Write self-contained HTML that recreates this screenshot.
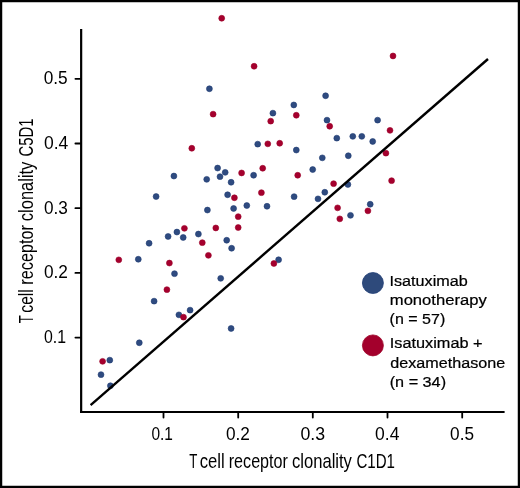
<!DOCTYPE html>
<html><head><meta charset="utf-8"><style>
html,body{margin:0;padding:0;background:#fff;}
body{width:520px;height:488px;overflow:hidden;}
svg{display:block;will-change:transform;}
text{font-family:"Liberation Sans",sans-serif;fill:#000;}
.lg text{fill:#000;stroke:#000;stroke-width:0.22px;}
.b{fill:#2f4b80;stroke:#1f3b72;stroke-width:0.6;}
.r{fill:#a5002e;stroke:#9a0026;stroke-width:0.6;}
.B{fill:#2e4a7b;stroke:#223f76;stroke-width:0.8;}
.R{fill:#a3002c;stroke:#9c0026;stroke-width:0.8;}
</style></head><body>
<svg width="520" height="488" viewBox="0 0 520 488">
<rect x="1.12" y="1.12" width="517.76" height="485.76" fill="#fff" stroke="#000" stroke-width="2.24"/>
<g>
<circle cx="209.4" cy="88.75" r="2.95" class="b"/>
<circle cx="325.6" cy="95.75" r="2.95" class="b"/>
<circle cx="173.9" cy="176.05" r="2.95" class="b"/>
<circle cx="156.1" cy="196.55" r="2.95" class="b"/>
<circle cx="272.9" cy="113.15" r="2.95" class="b"/>
<circle cx="257.7" cy="144.15" r="2.95" class="b"/>
<circle cx="217.6" cy="168.05" r="2.95" class="b"/>
<circle cx="225.2" cy="172.35" r="2.95" class="b"/>
<circle cx="253.6" cy="175.25" r="2.95" class="b"/>
<circle cx="206.7" cy="179.35" r="2.95" class="b"/>
<circle cx="220.0" cy="176.65" r="2.95" class="b"/>
<circle cx="231.1" cy="182.25" r="2.95" class="b"/>
<circle cx="227.6" cy="194.75" r="2.95" class="b"/>
<circle cx="293.8" cy="104.95" r="2.95" class="b"/>
<circle cx="327.0" cy="120.15" r="2.95" class="b"/>
<circle cx="377.6" cy="120.15" r="2.95" class="b"/>
<circle cx="336.8" cy="138.15" r="2.95" class="b"/>
<circle cx="352.8" cy="136.35" r="2.95" class="b"/>
<circle cx="361.8" cy="136.35" r="2.95" class="b"/>
<circle cx="372.7" cy="141.45" r="2.95" class="b"/>
<circle cx="296.3" cy="150.05" r="2.95" class="b"/>
<circle cx="322.3" cy="157.85" r="2.95" class="b"/>
<circle cx="348.3" cy="155.75" r="2.95" class="b"/>
<circle cx="312.7" cy="169.55" r="2.95" class="b"/>
<circle cx="347.9" cy="184.45" r="2.95" class="b"/>
<circle cx="324.8" cy="192.25" r="2.95" class="b"/>
<circle cx="294.1" cy="196.65" r="2.95" class="b"/>
<circle cx="318.0" cy="198.85" r="2.95" class="b"/>
<circle cx="176.9" cy="232.05" r="2.95" class="b"/>
<circle cx="168.1" cy="236.45" r="2.95" class="b"/>
<circle cx="183.2" cy="237.45" r="2.95" class="b"/>
<circle cx="149.1" cy="243.25" r="2.95" class="b"/>
<circle cx="138.3" cy="259.25" r="2.95" class="b"/>
<circle cx="174.5" cy="273.65" r="2.95" class="b"/>
<circle cx="207.4" cy="210.05" r="2.95" class="b"/>
<circle cx="233.6" cy="208.45" r="2.95" class="b"/>
<circle cx="246.8" cy="205.55" r="2.95" class="b"/>
<circle cx="267.0" cy="206.25" r="2.95" class="b"/>
<circle cx="198.4" cy="234.05" r="2.95" class="b"/>
<circle cx="226.7" cy="240.25" r="2.95" class="b"/>
<circle cx="231.6" cy="248.25" r="2.95" class="b"/>
<circle cx="220.7" cy="278.35" r="2.95" class="b"/>
<circle cx="370.2" cy="204.25" r="2.95" class="b"/>
<circle cx="350.5" cy="215.35" r="2.95" class="b"/>
<circle cx="278.6" cy="259.75" r="2.95" class="b"/>
<circle cx="154.1" cy="301.15" r="2.95" class="b"/>
<circle cx="178.9" cy="314.85" r="2.95" class="b"/>
<circle cx="190.1" cy="310.15" r="2.95" class="b"/>
<circle cx="231.1" cy="328.45" r="2.95" class="b"/>
<circle cx="139.3" cy="342.75" r="2.95" class="b"/>
<circle cx="109.8" cy="360.15" r="2.95" class="b"/>
<circle cx="101.0" cy="374.65" r="2.95" class="b"/>
<circle cx="110.4" cy="385.75" r="2.95" class="b"/>
<circle cx="221.7" cy="18.25" r="2.95" class="r"/>
<circle cx="254.1" cy="66.25" r="2.95" class="r"/>
<circle cx="393.0" cy="55.95" r="2.95" class="r"/>
<circle cx="213.1" cy="114.15" r="2.95" class="r"/>
<circle cx="270.7" cy="121.15" r="2.95" class="r"/>
<circle cx="191.8" cy="148.25" r="2.95" class="r"/>
<circle cx="267.8" cy="143.85" r="2.95" class="r"/>
<circle cx="279.7" cy="143.25" r="2.95" class="r"/>
<circle cx="241.6" cy="172.95" r="2.95" class="r"/>
<circle cx="262.7" cy="168.25" r="2.95" class="r"/>
<circle cx="234.4" cy="197.75" r="2.95" class="r"/>
<circle cx="261.4" cy="192.65" r="2.95" class="r"/>
<circle cx="296.3" cy="115.25" r="2.95" class="r"/>
<circle cx="329.7" cy="126.25" r="2.95" class="r"/>
<circle cx="297.7" cy="175.25" r="2.95" class="r"/>
<circle cx="333.6" cy="183.65" r="2.95" class="r"/>
<circle cx="390.0" cy="130.35" r="2.95" class="r"/>
<circle cx="385.9" cy="153.15" r="2.95" class="r"/>
<circle cx="391.6" cy="180.65" r="2.95" class="r"/>
<circle cx="184.4" cy="228.35" r="2.95" class="r"/>
<circle cx="118.8" cy="259.85" r="2.95" class="r"/>
<circle cx="169.4" cy="263.05" r="2.95" class="r"/>
<circle cx="166.9" cy="289.65" r="2.95" class="r"/>
<circle cx="238.2" cy="216.65" r="2.95" class="r"/>
<circle cx="215.8" cy="227.95" r="2.95" class="r"/>
<circle cx="238.2" cy="227.55" r="2.95" class="r"/>
<circle cx="202.3" cy="242.65" r="2.95" class="r"/>
<circle cx="208.4" cy="255.35" r="2.95" class="r"/>
<circle cx="337.6" cy="207.85" r="2.95" class="r"/>
<circle cx="339.8" cy="218.85" r="2.95" class="r"/>
<circle cx="367.9" cy="210.85" r="2.95" class="r"/>
<circle cx="273.9" cy="263.45" r="2.95" class="r"/>
<circle cx="102.6" cy="361.35" r="2.95" class="r"/>
<circle cx="183.5" cy="317.15" r="2.95" class="r"/>
</g>
<line x1="81.15" y1="29.0" x2="81.15" y2="413" stroke="#000" stroke-width="2.2"/>
<line x1="80" y1="412" x2="504.6" y2="412" stroke="#000" stroke-width="2"/>
<line x1="163.5" y1="412" x2="163.5" y2="417.6" stroke="#000" stroke-width="1.8" stroke-linecap="round"/>
<line x1="238.2" y1="412" x2="238.2" y2="417.6" stroke="#000" stroke-width="1.8" stroke-linecap="round"/>
<line x1="312.8" y1="412" x2="312.8" y2="417.6" stroke="#000" stroke-width="1.8" stroke-linecap="round"/>
<line x1="387.5" y1="412" x2="387.5" y2="417.6" stroke="#000" stroke-width="1.8" stroke-linecap="round"/>
<line x1="462.2" y1="412" x2="462.2" y2="417.6" stroke="#000" stroke-width="1.8" stroke-linecap="round"/>
<line x1="75.4" y1="78.8" x2="81" y2="78.8" stroke="#000" stroke-width="1.8" stroke-linecap="round"/>
<line x1="75.4" y1="143.5" x2="81" y2="143.5" stroke="#000" stroke-width="1.8" stroke-linecap="round"/>
<line x1="75.4" y1="208.2" x2="81" y2="208.2" stroke="#000" stroke-width="1.8" stroke-linecap="round"/>
<line x1="75.4" y1="272.9" x2="81" y2="272.9" stroke="#000" stroke-width="1.8" stroke-linecap="round"/>
<line x1="75.4" y1="337.6" x2="81" y2="337.6" stroke="#000" stroke-width="1.8" stroke-linecap="round"/>
<line x1="90.6" y1="405.1" x2="488.0" y2="59.0" stroke="#000" stroke-width="2.4"/>
<text x="151.38" y="439.7" font-size="17.5" textLength="21.49" lengthAdjust="spacingAndGlyphs">0.1</text>
<text x="226.01" y="439.7" font-size="17.5" textLength="23.95" lengthAdjust="spacingAndGlyphs">0.2</text>
<text x="300.49" y="439.7" font-size="17.5" textLength="24.61" lengthAdjust="spacingAndGlyphs">0.3</text>
<text x="375.10" y="439.7" font-size="17.5" textLength="24.33" lengthAdjust="spacingAndGlyphs">0.4</text>
<text x="450.11" y="439.7" font-size="17.5" textLength="23.88" lengthAdjust="spacingAndGlyphs">0.5</text>
<text x="43.71" y="84.1" font-size="17.5" textLength="23.98" lengthAdjust="spacingAndGlyphs">0.5</text>
<text x="44.00" y="148.9" font-size="17.5" textLength="24.33" lengthAdjust="spacingAndGlyphs">0.4</text>
<text x="44.01" y="213.6" font-size="17.5" textLength="23.86" lengthAdjust="spacingAndGlyphs">0.3</text>
<text x="44.01" y="278.1" font-size="17.5" textLength="23.95" lengthAdjust="spacingAndGlyphs">0.2</text>
<text x="43.97" y="342.9" font-size="17.5" textLength="22.03" lengthAdjust="spacingAndGlyphs">0.1</text>
<text x="189.17" y="467.7" font-size="21" textLength="8.11" lengthAdjust="spacingAndGlyphs">T</text>
<text x="199.65" y="467.7" font-size="21" textLength="24.94" lengthAdjust="spacingAndGlyphs">cell</text>
<text x="228.75" y="467.7" font-size="21" textLength="59.15" lengthAdjust="spacingAndGlyphs">receptor</text>
<text x="291.95" y="467.7" font-size="21" textLength="59.99" lengthAdjust="spacingAndGlyphs">clonality</text>
<text x="356.45" y="467.7" font-size="21" textLength="38.53" lengthAdjust="spacingAndGlyphs">C1D1</text>
<g transform="rotate(-90)">
<text x="-323.33" y="32.6" font-size="21" textLength="8.00" lengthAdjust="spacingAndGlyphs">T</text>
<text x="-312.71" y="32.6" font-size="21" textLength="23.53" lengthAdjust="spacingAndGlyphs">cell</text>
<text x="-284.66" y="32.6" font-size="21" textLength="59.56" lengthAdjust="spacingAndGlyphs">receptor</text>
<text x="-221.14" y="32.6" font-size="21" textLength="59.49" lengthAdjust="spacingAndGlyphs">clonality</text>
<text x="-156.55" y="32.6" font-size="21" textLength="38.12" lengthAdjust="spacingAndGlyphs">C5D1</text>
</g>
<circle cx="372.9" cy="283" r="10.5" class="B"/>
<circle cx="372.9" cy="345.4" r="10.5" class="R"/>
<g class="lg">
<text x="389.54" y="285.6" font-size="15.2" textLength="78.21" lengthAdjust="spacingAndGlyphs">Isatuximab</text>
<text x="389.82" y="304.8" font-size="15.2" textLength="96.91" lengthAdjust="spacingAndGlyphs">monotherapy</text>
<text x="389.64" y="324.0" font-size="15.2" textLength="55.59" lengthAdjust="spacingAndGlyphs">(n = 57)</text>
<text x="389.78" y="348.4" font-size="15.2" textLength="92.79" lengthAdjust="spacingAndGlyphs">Isatuximab +</text>
<text x="390.35" y="367.5" font-size="15.2" textLength="114.79" lengthAdjust="spacingAndGlyphs">dexamethasone</text>
<text x="389.73" y="386.5" font-size="15.2" textLength="56.31" lengthAdjust="spacingAndGlyphs">(n = 34)</text>
</g>
</svg>
</body></html>
